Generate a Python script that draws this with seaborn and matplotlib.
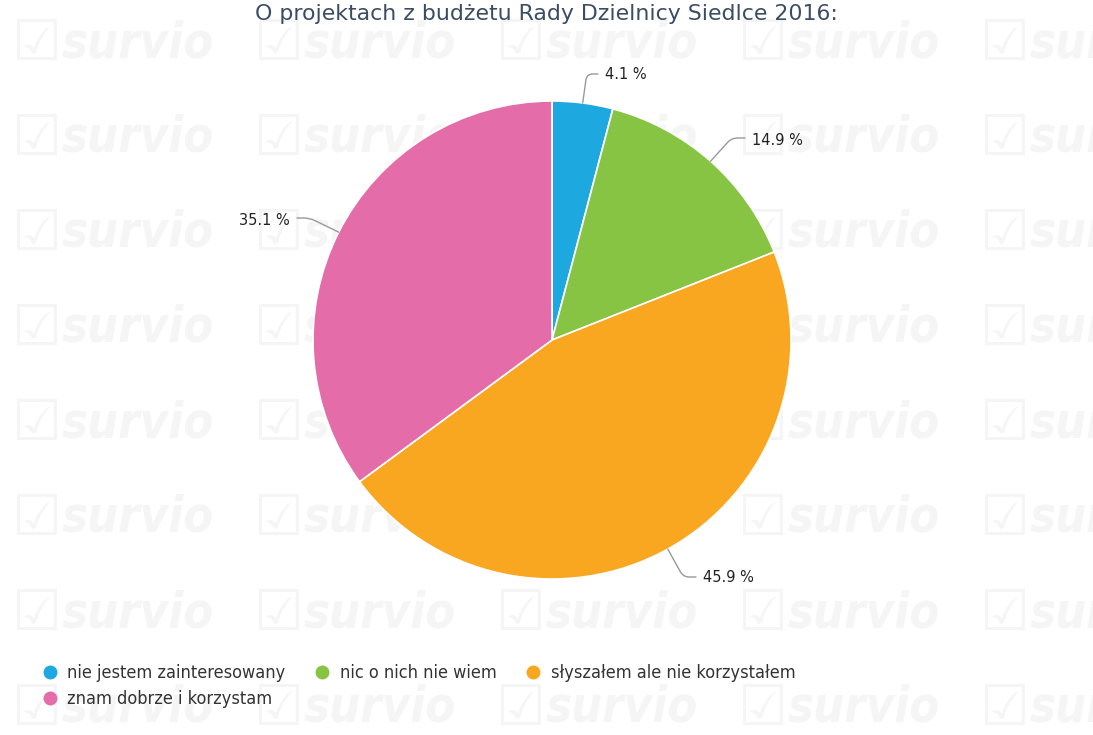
import numpy as np
import matplotlib
matplotlib.use("Agg")
import matplotlib.pyplot as plt
import seaborn as sns

# data
title = "O projektach z budżetu Rady Dzielnicy Siedlce 2016:"
categories = ["nie jestem zainteresowany", "nic o nich nie wiem",
              "słyszałem ale nie korzystałem", "znam dobrze i korzystam"]
shares = [4.1, 14.9, 45.9, 35.1]
colors = ["#1ea8e0", "#88c444", "#f9a620", "#e46ca8"]

sns.set_theme(style="white")
plt.rcParams['font.family'] = ['DejaVu Sans']

W, H = 1093, 735
fig = plt.figure(figsize=(W / 100, H / 100), dpi=100)
fig.patch.set_facecolor("white")

# watermark grid (behind everything)
for row_y in np.arange(45, 735, 95):
    for col_x in np.arange(12, 1093, 242):
        fig.text(col_x / W, 1 - row_y / H, "☑", fontsize=40, color="#f5f5f5",
                 va="center", ha="left", zorder=-5)
        fig.text((col_x + 50) / W, 1 - (row_y - 2) / H, "survio", fontsize=35,
                 fontweight="bold", fontstyle="italic", fontstretch="condensed",
                 color="#f5f5f5", va="center", ha="left", zorder=-5)

ax = fig.add_axes([0, 0, 1, 1])
ax.patch.set_alpha(0)

cx, cy, r = 552, H - 340, 239
wedges, _ = ax.pie(shares, colors=sns.color_palette(colors), startangle=90,
                   counterclock=False, center=(cx, cy), radius=r,
                   wedgeprops=dict(edgecolor="white", linewidth=1.2))
ax.set_xlim(0, W)
ax.set_ylim(0, H)
ax.set_aspect("equal")
ax.axis("off")

# percentage labels with connectors
label_pos = [(605, 74), (752, 140), (703, 578), (290, 220)]
label_ha = ["left", "left", "left", "right"]
conn_end = [(598, 74), (745, 138), (696, 577), (297, 218)]
cum = np.cumsum([0] + shares)
for i, val in enumerate(shares):
    mid = 90 - 360 * (cum[i] + val / 2) / 100
    ex = cx + r * np.cos(np.radians(mid))
    ey = cy + r * np.sin(np.radians(mid))
    tx, ty = conn_end[i]
    ax.annotate("", xy=(ex, ey), xytext=(tx, H - ty),
                arrowprops=dict(arrowstyle="-", color="#999999", lw=1,
                                shrinkA=0, shrinkB=0,
                                connectionstyle="angle,angleA=0,angleB=%d,rad=6" % mid))
    lx, ly = label_pos[i]
    ax.text(lx, H - ly, f"{val} %", ha=label_ha[i], va="center",
            fontsize=10.5, color="#222222")

fig.text(546 / W, 1 - 14 / H, title, ha="center", va="center",
         fontsize=15.8, color="#3b4d63")

# legend: column-wise order so row 1 holds three entries
handles = [plt.Line2D([], [], marker="o", linestyle="", markersize=9,
                      markerfacecolor=c, markeredgecolor=c) for c in colors]
order = [0, 3, 1, 2]
ax.legend([handles[i] for i in order], [categories[i] for i in order],
          ncol=3, loc="upper left", bbox_to_anchor=(41 / W, 1 - 664 / H),
          bbox_transform=fig.transFigure, frameon=False,
          prop=dict(family=['DejaVu Sans'], size=13, stretch="condensed"),
          labelcolor="#333333", handletextpad=0.45, columnspacing=1.55,
          labelspacing=0.45, handlelength=1.0, borderaxespad=0, borderpad=0)

fig.savefig("out.png", dpi=100)
